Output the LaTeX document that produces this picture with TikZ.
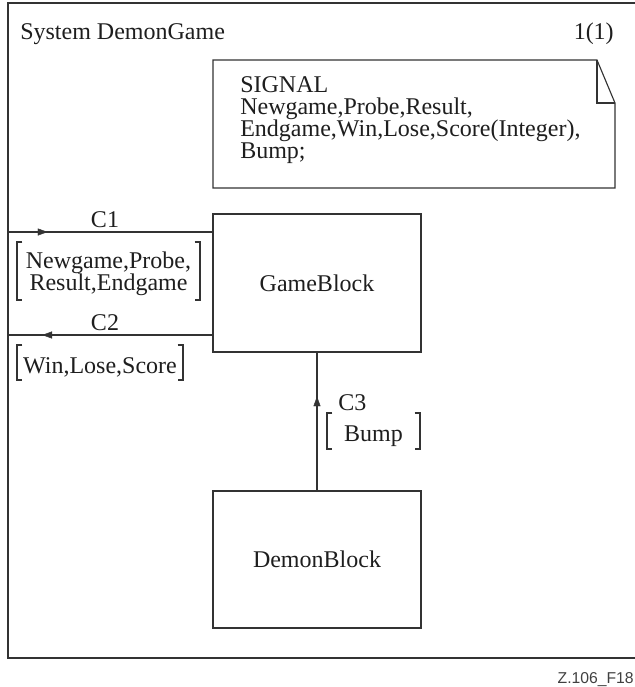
\documentclass[tikz,border=0pt]{standalone}
\usepackage{fontspec}
\setmainfont{Liberation Serif}
\newfontfamily\figsans{Liberation Sans}
\definecolor{linegray}{HTML}{333333}
\definecolor{inkgray}{HTML}{1E1E1E}
\definecolor{tagcolor}{HTML}{404040}

\begin{document}
\begin{tikzpicture}[x=0.75pt,y=-0.75pt,
  line/.style={draw=linegray,line width=0.85pt},
  framestyle/.style={draw=linegray,line width=1.2pt},
  txt/.style={text=inkgray,font=\fontsize{18}{16.5}\selectfont,inner sep=0pt},
  blockbox/.style={line,txt,minimum width=156pt,minimum height=103.5pt,outer sep=0pt},
  sigbox/.style={txt,align=center,outer sep=0pt},
  arrowfill/.style={fill=linegray,draw=linegray,line width=0.3pt,line join=miter}
]
\useasboundingbox (0,0) rectangle (635,687);

% system frame (open on the right, where it runs off the sheet)
\draw[framestyle] (635,3) -- (8,3) -- (8,658) -- (635,658);
\node[txt,anchor=base west] (title) at (20,39) {System DemonGame};
\node[txt,anchor=base east] (page) at (614,39) {1(1)};

% signal declaration text symbol with folded corner
\draw[line,fill=white] (213,60) -- (597,60) -- (615,103) -- (615,188) -- (213,188) -- cycle;
\draw[line] (597,60) -- (597,103) -- (615,103);
\node[txt,anchor=north west,align=left] (sigdecl) at (240,76.5)
  {SIGNAL\\Newgame,Probe,Result,\\Endgame,Win,Lose,Score(Integer),\\Bump;};

% blocks
\node[blockbox] (gb) at (317,283) {GameBlock};
\node[blockbox,minimum height=102.75pt] (db) at (317,559.5) {DemonBlock};

% channels, each with a filled flow arrow part way along
\coordinate (c1in) at (8,232);
\coordinate (c2out) at (8,335);
\draw[line] (c1in) -- (c1in -| gb.west) coordinate[pos=0.19] (a1);
\draw[line] (gb.west |- c2out) -- (c2out) coordinate[pos=0.83] (a2);
\draw[line] (db.north) -- (gb.south) coordinate[pos=0.676] (a3);
\filldraw[arrowfill] (a1) -- ++(-9,3.3) -- ++(0,-6.6) -- cycle;
\filldraw[arrowfill] (a2) -- ++(9,3.3) -- ++(0,-6.6) -- cycle;
\filldraw[arrowfill] (a3) -- ++(-3.3,9) -- ++(6.6,0) -- cycle;

\node[txt,anchor=base] (c1lbl) at (105,227) {C1};
\node[txt,anchor=base] (c2lbl) at (105,330) {C2};
\node[txt,anchor=base west] (c3lbl) at (338,410) {C3};

% signal lists in brackets
\node[sigbox,text height=28.5pt,text depth=0pt,
      minimum width=137.25pt,minimum height=43.5pt] (s1) at (108.5,271)
  {Newgame,Probe,\\Result,Endgame};
\node[sigbox,text height=15.75pt,text depth=0pt,
      minimum width=124.5pt,minimum height=26.25pt] (s2) at (100,362.5)
  {Win,Lose,Score};
\node[sigbox,text height=15pt,text depth=0pt,
      minimum width=69.75pt,minimum height=27pt] (s3) at (373.5,431)
  {Bump};
\foreach \s in {s1,s2,s3}{
  \draw[line] ([xshift=4pt]\s.north west) -- (\s.north west) -- (\s.south west) -- ([xshift=4pt]\s.south west);
  \draw[line] ([xshift=-4pt]\s.north east) -- (\s.north east) -- (\s.south east) -- ([xshift=-4pt]\s.south east);
}

% figure tag
\node[anchor=base east,inner sep=0pt,text=tagcolor,font=\figsans\fontsize{11.8}{14}\selectfont] (tag) at (634,683) {Z.106\_F18};
\end{tikzpicture}
\end{document}
